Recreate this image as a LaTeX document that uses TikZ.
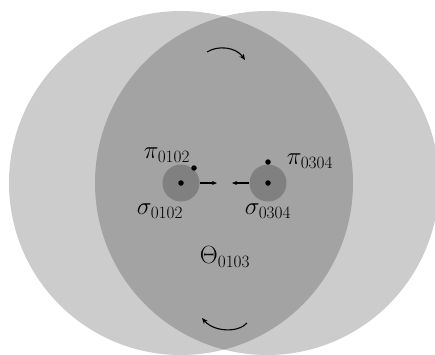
\documentclass[tikz,border=0pt]{standalone}
\usetikzlibrary{arrows.meta,positioning}
\definecolor{outergray}{gray}{0.80}
\definecolor{lensgray}{gray}{0.64}
\definecolor{coregray}{gray}{0.50}
\begin{document}
\begin{tikzpicture}[
    x=1pt, y=-1pt,
    core/.style={circle, fill=coregray, minimum size=37pt, inner sep=0pt},
    dot/.style={circle, fill=black, minimum size=5.5pt, inner sep=0pt},
    lbl/.style={font=\fontsize{24}{28}\selectfont, inner sep=0pt},
    push/.style={-{Stealth[length=5pt,width=4pt]}, line width=1.1pt},
    spin/.style={-{Stealth[length=6pt,width=5pt]}, line width=1.1pt}
]
\useasboundingbox (0,0) rectangle (435,354);
% two large discs and their overlap
\fill[outergray] (181,183) circle (172pt);
\fill[outergray] (267,183) circle (172pt);
\begin{scope}
  \clip (181,183) circle (172pt);
  \fill[lensgray] (267,183) circle (172pt);
\end{scope}
% cores
\node[core] (s1) at (181,183) {};
\node[core] (s2) at (268,183) {};
\node[dot] (c1) at (s1.center) {};
\node[dot] (c2) at (s2.center) {};
\node[dot] (p1) at (194,168) {};
\node[dot] (p2) at (268,162) {};
% labels
\node[lbl] (lp1) at (167,155) {$\pi_{0102}$};
\node[lbl] (ls1) at (160,211) {$\sigma_{0102}$};
\node[lbl] (lp2) at (310,161) {$\pi_{0304}$};
\node[lbl] (ls2) at (268,211) {$\sigma_{0304}$};
\node[lbl] (th) at (225,257) {$\Theta_{0103}$};
% pushes
\coordinate (a1) at (217,183);
\coordinate (a2) at (232,183);
\draw[push] (s1.east) -- (a1);
\draw[push] (s2.west) -- (a2);
% rotation arrows
\draw[spin] (207,52) .. controls (218,45) and (236,47) .. (245,60);
\draw[spin] (247,323) .. controls (238,333) and (214,332) .. (202,318);
\end{tikzpicture}
\end{document}
